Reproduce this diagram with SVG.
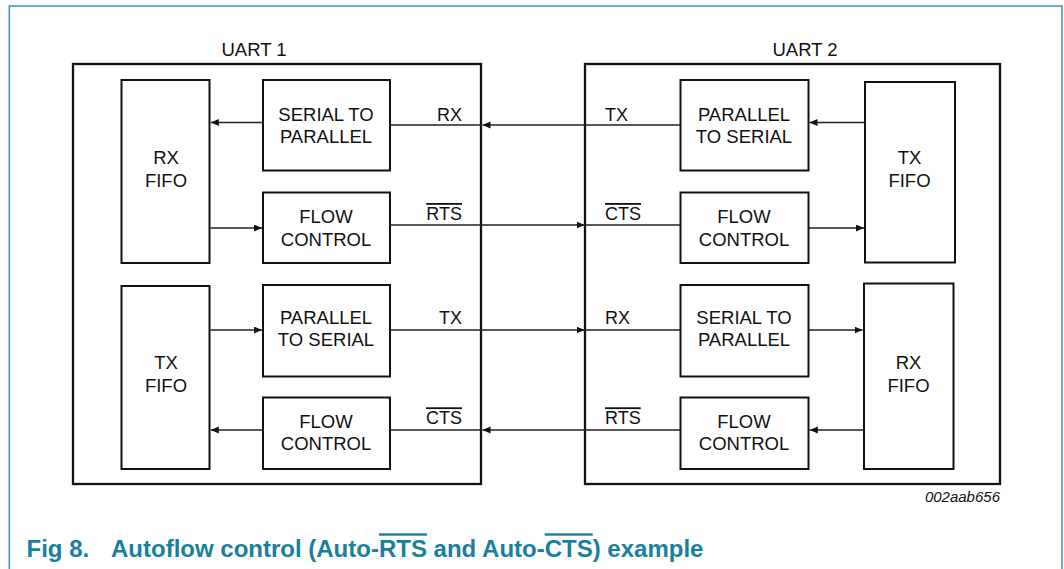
<svg xmlns="http://www.w3.org/2000/svg" width="1064" height="569" viewBox="0 0 1064 569">
<style>
text{font-family:"Liberation Sans",Arial,sans-serif;fill:#111;}
.lbl{font-size:18.5px;text-anchor:middle;}
.sig{font-size:18px;}
.ov{text-decoration:overline;}
.uart{fill:none;stroke:#111;stroke-width:2.3;}
.box{fill:#fff;stroke:#111;stroke-width:2;}
.ln{stroke:#222;stroke-width:1.3;fill:none;}
.cap{font-size:24px;font-weight:bold;fill:#1a7f9c;}
</style>
<defs>
<marker id="ah" markerUnits="userSpaceOnUse" markerWidth="9" markerHeight="8" refX="8" refY="3.5" orient="auto">
<path d="M0,0 L8,3.5 L0,7 z" fill="#111"/>
</marker>
</defs>
<path d="M9.3,569 V6 H1062 V569" fill="none" stroke="#3a97b3" stroke-width="1.5"/>

<g id="uart1">
<rect class="uart" x="73" y="64" width="408" height="420"/>
<text class="lbl" x="254" y="56">UART 1</text>
</g>
<g id="uart2">
<rect class="uart" x="585" y="64" width="415" height="420"/>
<text class="lbl" x="805" y="56">UART 2</text>
</g>

<g id="u1-rxfifo"><rect class="box" x="121.5" y="80" width="88" height="183"/>
<text class="lbl" x="166" y="164">RX</text><text class="lbl" x="166" y="187">FIFO</text></g>
<g id="u1-s2p"><rect class="box" x="263" y="80" width="127" height="90.5"/>
<text class="lbl" x="326" y="120.7">SERIAL TO</text><text class="lbl" x="326" y="142.7">PARALLEL</text></g>
<g id="u1-flow1"><rect class="box" x="263" y="192.5" width="127" height="70.5"/>
<text class="lbl" x="326" y="222.7">FLOW</text><text class="lbl" x="326" y="246">CONTROL</text></g>
<g id="u1-txfifo"><rect class="box" x="121.5" y="286" width="88" height="183"/>
<text class="lbl" x="166" y="369">TX</text><text class="lbl" x="166" y="391.7">FIFO</text></g>
<g id="u1-p2s"><rect class="box" x="263" y="285" width="127" height="91.5"/>
<text class="lbl" x="326" y="324">PARALLEL</text><text class="lbl" x="326" y="346">TO SERIAL</text></g>
<g id="u1-flow2"><rect class="box" x="263" y="397.5" width="127" height="71.5"/>
<text class="lbl" x="326" y="427.7">FLOW</text><text class="lbl" x="326" y="450">CONTROL</text></g>

<g id="u2-p2s"><rect class="box" x="680.5" y="80" width="128" height="90.5"/>
<text class="lbl" x="744" y="120.7">PARALLEL</text><text class="lbl" x="744" y="142.7">TO SERIAL</text></g>
<g id="u2-flow1"><rect class="box" x="680.5" y="192.5" width="128" height="70.5"/>
<text class="lbl" x="744" y="222.7">FLOW</text><text class="lbl" x="744" y="246">CONTROL</text></g>
<g id="u2-txfifo"><rect class="box" x="865" y="82" width="90" height="180.5"/>
<text class="lbl" x="909.5" y="164">TX</text><text class="lbl" x="909.5" y="187">FIFO</text></g>
<g id="u2-s2p"><rect class="box" x="680.5" y="285" width="128" height="91.5"/>
<text class="lbl" x="744" y="324">SERIAL TO</text><text class="lbl" x="744" y="346">PARALLEL</text></g>
<g id="u2-flow2"><rect class="box" x="680.5" y="397.5" width="128" height="71.5"/>
<text class="lbl" x="744" y="427.7">FLOW</text><text class="lbl" x="744" y="450">CONTROL</text></g>
<g id="u2-rxfifo"><rect class="box" x="864" y="283.5" width="89.5" height="185.5"/>
<text class="lbl" x="908.5" y="369">RX</text><text class="lbl" x="908.5" y="391.7">FIFO</text></g>

<g id="connectors">
<line class="ln" x1="262" y1="122.5" x2="210.8" y2="122.5" marker-end="url(#ah)"/>
<line class="ln" x1="210.5" y1="228" x2="262" y2="228" marker-end="url(#ah)"/>
<line class="ln" x1="680" y1="125" x2="482.5" y2="125" marker-end="url(#ah)"/>
<line class="ln" x1="482" y1="125" x2="390" y2="125"/>
<line class="ln" x1="390" y1="225" x2="584.5" y2="225" marker-end="url(#ah)"/>
<line class="ln" x1="584" y1="225" x2="680" y2="225"/>
<line class="ln" x1="808.5" y1="228" x2="864" y2="228" marker-end="url(#ah)"/>
<line class="ln" x1="865" y1="122.5" x2="809.5" y2="122.5" marker-end="url(#ah)"/>
<line class="ln" x1="210.5" y1="330" x2="262" y2="330" marker-end="url(#ah)"/>
<line class="ln" x1="390" y1="330" x2="584.5" y2="330" marker-end="url(#ah)"/>
<line class="ln" x1="584" y1="330" x2="680" y2="330"/>
<line class="ln" x1="808.5" y1="330" x2="862.5" y2="330" marker-end="url(#ah)"/>
<line class="ln" x1="864" y1="430" x2="809.8" y2="430" marker-end="url(#ah)"/>
<line class="ln" x1="680" y1="430" x2="482.5" y2="430" marker-end="url(#ah)"/>
<line class="ln" x1="482" y1="430" x2="390" y2="430"/>
<line class="ln" x1="262" y1="430" x2="210.8" y2="430" marker-end="url(#ah)"/>
</g>

<g id="signal-labels">
<text class="sig" x="462" y="120.5" text-anchor="end">RX</text>
<text class="sig ov" x="462" y="220" text-anchor="end">RTS</text>
<text class="sig" x="462" y="324.3" text-anchor="end">TX</text>
<text class="sig ov" x="462" y="424.3" text-anchor="end">CTS</text>
<text class="sig" x="605" y="120.5">TX</text>
<text class="sig ov" x="605" y="220">CTS</text>
<text class="sig" x="605" y="324.3">RX</text>
<text class="sig ov" x="605" y="424.3">RTS</text>
</g>

<text x="1000" y="501.7" text-anchor="end" font-size="15" font-style="italic">002aab656</text>
<text class="cap" x="26.5" y="557.3">Fig 8.</text>
<text class="cap" x="111" y="557.3">Autoflow control (Auto-<tspan class="ov">RTS</tspan> and Auto-<tspan class="ov">CTS</tspan>) example</text>
</svg>
